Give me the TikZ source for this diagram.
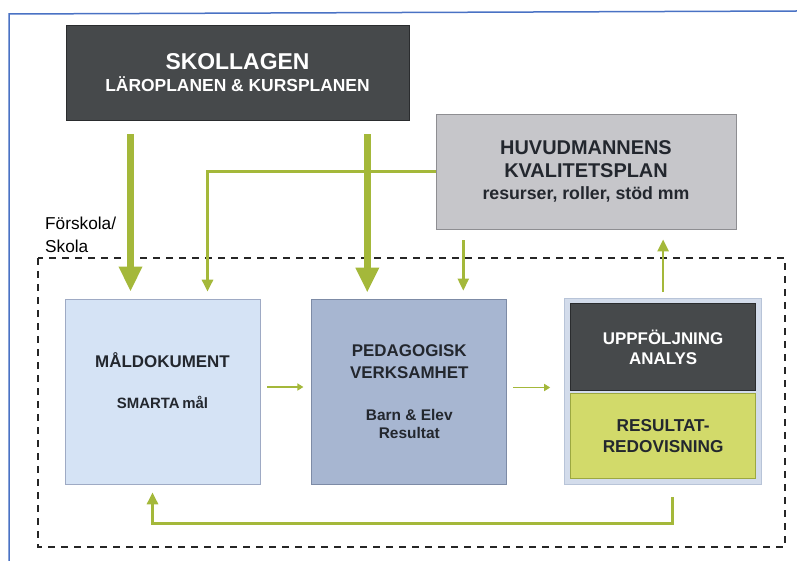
\documentclass[tikz,border=0pt]{standalone}
\usepackage{fontspec}
\setmainfont{Liberation Sans}
\usetikzlibrary{arrows.meta,positioning}
\definecolor{lawgray}{HTML}{46494B}
\definecolor{lawedge}{HTML}{2A2C2E}
\definecolor{plangray}{HTML}{C6C6CA}
\definecolor{planedge}{HTML}{8E8E92}
\definecolor{goalblue}{HTML}{D5E3F5}
\definecolor{goaledge}{HTML}{9EAAC4}
\definecolor{workblue}{HTML}{A7B6D1}
\definecolor{workedge}{HTML}{7D8BA6}
\definecolor{followpale}{HTML}{D3DCEB}
\definecolor{followedge}{HTML}{B8C4D8}
\definecolor{resgreen}{HTML}{D2DA6A}
\definecolor{resedge}{HTML}{9CA840}
\definecolor{arrgreen}{HTML}{A4B83A}
\definecolor{inktext}{HTML}{23272E}
\definecolor{frameblue}{HTML}{4A72C4}
\tikzset{
  box/.style={draw,line width=0.8bp,align=center,inner sep=0pt,text=inktext,font=\bfseries\fontsize{17}{20}\selectfont},
  dashbox/.style={draw=black!85,line width=1.8bp,dash pattern=on 7bp off 6bp},
  bigarr/.style={-{Triangle[length=25bp,width=22bp]},line width=7bp,color=arrgreen},
  midarr/.style={-{Triangle[length=12bp,width=11bp]},line width=3.5bp,color=arrgreen},
  thinarr/.style={-{Triangle[length=6bp,width=7bp]},line width=1.6bp,color=arrgreen}
}
\begin{document}
\begin{tikzpicture}[x=1bp,y=-1bp,node distance=51bp]
  \useasboundingbox (0,0) rectangle (797,561);
  \draw[frameblue,line width=1.5bp] (9,561) -- (9,14) -- (797,11);
  % upper level
  \node[box,fill=lawgray,draw=lawedge,text=white,minimum width=343bp,minimum height=95bp,
    font=\bfseries\fontsize{17.5}{22}\selectfont] (skol) at (237.5,72.5)
    {\fontsize{23}{24}\selectfont SKOLLAGEN\\LÄROPLANEN \& KURSPLANEN};
  \node[box,fill=plangray,draw=planedge,minimum width=300bp,minimum height=115bp,
    font=\bfseries\fontsize{20}{23}\selectfont] (huvud) at (586,171.5)
    {HUVUDMANNENS\\KVALITETSPLAN\\\fontsize{17.8}{23}\selectfont resurser, roller, stöd mm};
  \node[anchor=north west,align=left,inner sep=0pt,font=\fontsize{17.3}{23}\selectfont] (skolalbl)
    at (45,216.5) {Förskola/\\Skola};
  \draw[dashbox] (38,258) rectangle (785,547);
  % school level
  \node[box,fill=goalblue,draw=goaledge,minimum width=195bp,minimum height=185bp] (mal) at (162.5,391.5)
    {MÅLDOKUMENT\\[22bp]\fontsize{15}{18}\selectfont SMARTA\,mål\\[2bp]\mbox{}};
  \node[box,fill=workblue,draw=workedge,minimum width=195bp,minimum height=185bp,
    font=\bfseries\fontsize{17}{22}\selectfont,right=51bp of mal] (ped)
    {PEDAGOGISK\\VERKSAMHET\\[20bp]\fontsize{15.5}{18}\selectfont Barn \& Elev\\[-4bp]\fontsize{15.5}{18}\selectfont Resultat};
  \node[box,fill=followpale,draw=followedge,minimum width=197bp,minimum height=186bp,right=57bp of ped] (box) {};
  \node[box,fill=lawgray,draw=lawedge,text=white,minimum width=185bp,minimum height=87bp,
    below=5bp of box.north] (uppf) {UPPFÖLJNING\\ANALYS};
  \node[box,fill=resgreen,draw=resedge,minimum width=185bp,minimum height=85bp,
    font=\bfseries\fontsize{17.3}{21}\selectfont,below=2bp of uppf] (res) {RESULTAT-\\REDOVISNING};
  % connectors
  \draw[midarr,shorten >=7bp] (huvud.west) -| ([xshift=45bp]mal.north);
  \draw[bigarr,shorten <=14bp,shorten >=7bp] ([xshift=-32bp]mal.north |- skol.south) -- ([xshift=-32bp]mal.north);
  \draw[bigarr,shorten <=14bp,shorten >=6bp] ([xshift=-42bp]ped.north |- skol.south) -- ([xshift=-42bp]ped.north);
  \draw[midarr,line width=2.5bp,shorten <=11bp,shorten >=8bp] ([xshift=54bp]ped.north |- huvud.south) -- ([xshift=54bp]ped.north);
  \draw[midarr,line width=2.5bp,shorten <=6bp,shorten >=10bp] (box.north) -- (box.north |- huvud.south);
  \draw[thinarr,shorten <=7bp,shorten >=8bp] ([yshift=4.5bp]mal.east) -- ([yshift=4.5bp]mal.east -| ped.west);
  \draw[thinarr,shorten <=6bp,shorten >=14bp] ([yshift=4bp]ped.east) -- ([yshift=4bp]ped.east -| box.west);
  \draw[midarr,line width=3bp,shorten >=8bp] ([xshift=9bp,yshift=-12bp]box.south) -- ++(0,27) -| ([xshift=-10bp]mal.south);
\end{tikzpicture}
\end{document}
